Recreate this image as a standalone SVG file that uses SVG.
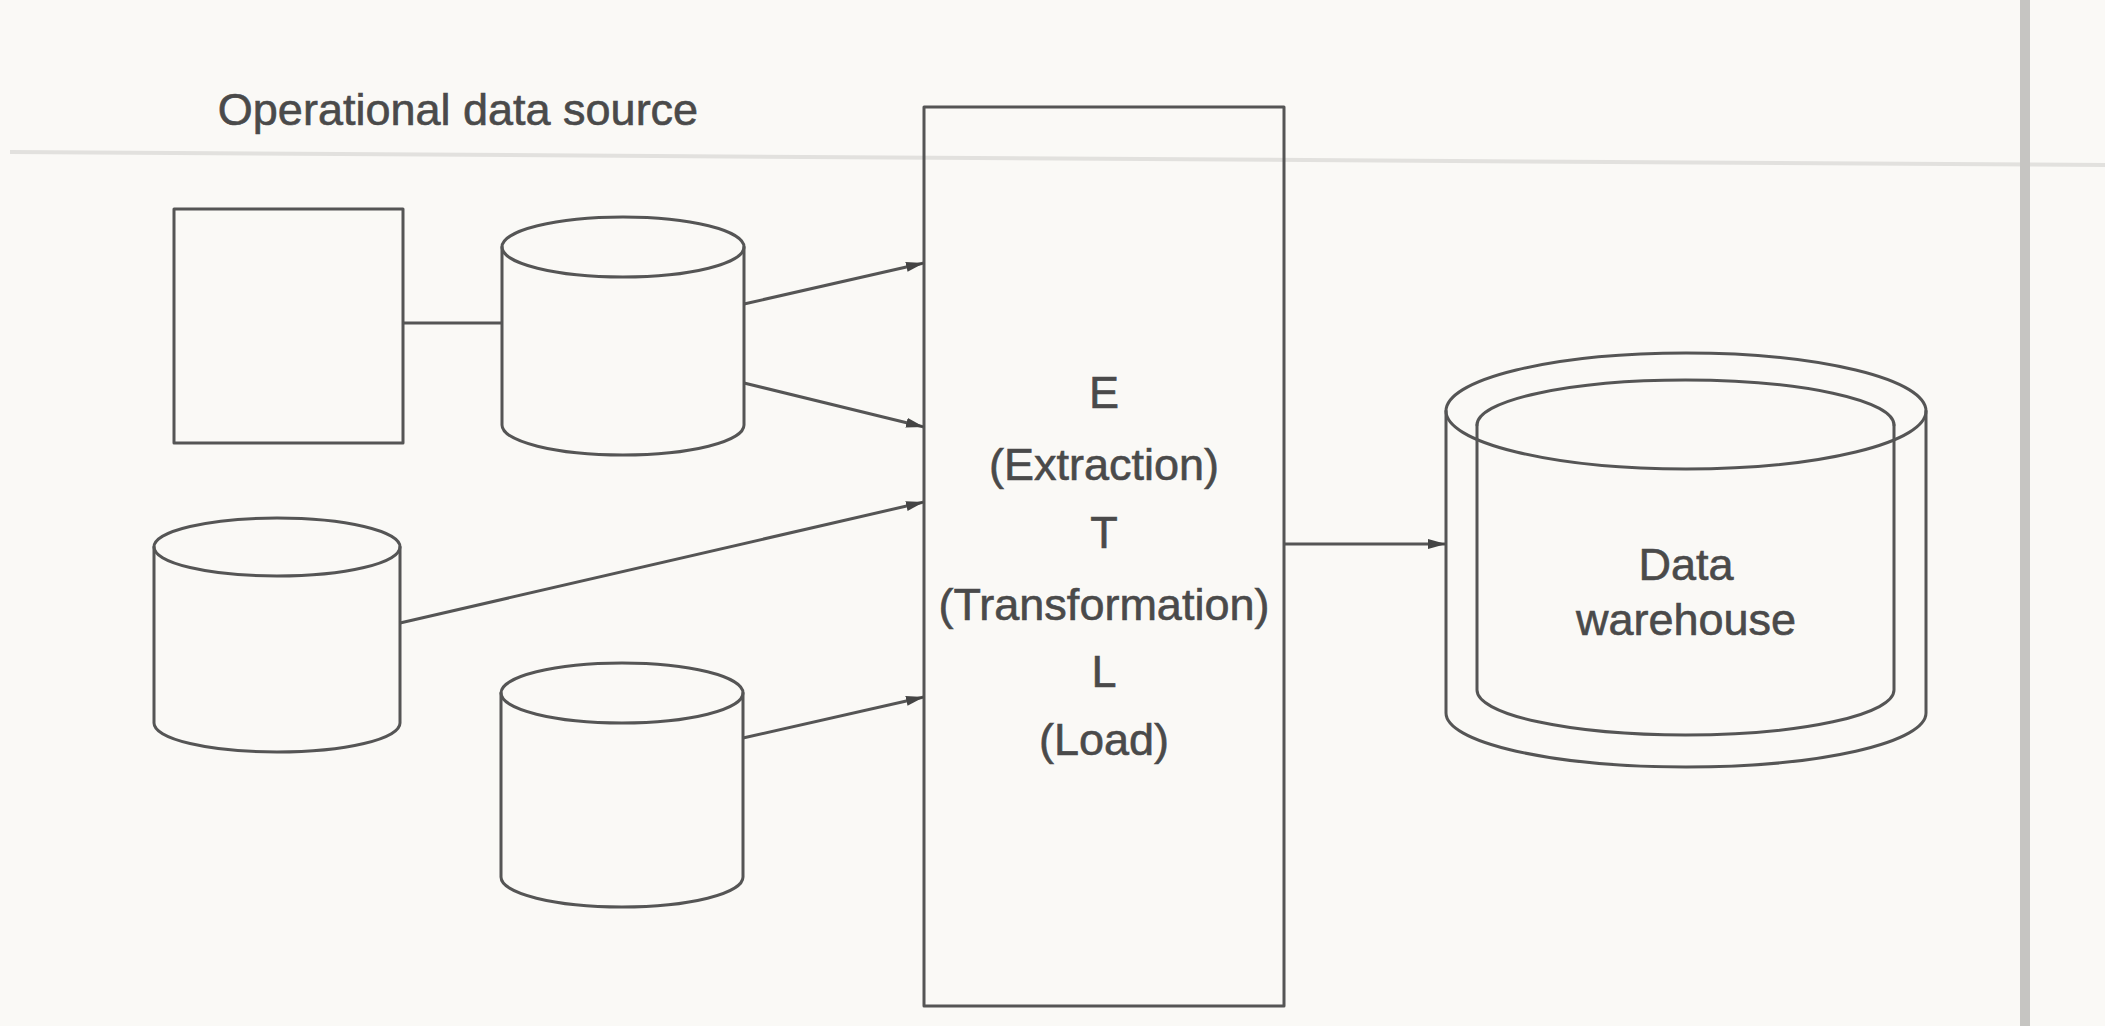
<svg xmlns="http://www.w3.org/2000/svg" width="2105" height="1026" viewBox="0 0 2105 1026">
  <style>
    .ln { fill: none; stroke: #555555; stroke-width: 3; stroke-linecap: round; stroke-linejoin: round; }
    .conn { fill: none; stroke: #555555; stroke-width: 3; }
    .lbl { font-family: "Liberation Sans", Arial, Helvetica, sans-serif; font-size: 45px; fill: #4a4a4a; stroke: #4a4a4a; stroke-width: 0.6; text-anchor: middle; }
    .page { fill: none; stroke-linecap: butt; }
  </style>
  <defs>
    <marker id="arrow" viewBox="0 0 18 10" refX="18" refY="5" markerWidth="18" markerHeight="10" markerUnits="userSpaceOnUse" orient="auto">
      <path d="M0,0 L18,5 L0,10 Z" fill="#444444"/>
    </marker>
  </defs>

  <!-- page background, rule line and gutter -->
  <rect x="0" y="0" width="2105" height="1026" fill="#faf9f6"/>
  <line class="page" x1="10" y1="152" x2="2105" y2="165" stroke="#e2e1de" stroke-width="4"/>
  <line class="page" x1="2025" y1="0" x2="2025" y2="1026" stroke="#c6c5c2" stroke-width="10"/>

  <!-- title -->
  <text id="title" class="lbl" x="458" y="125">Operational data source</text>

  <!-- source application -->
  <g id="source-app">
    <rect class="ln" x="174" y="209" width="229" height="234"/>
  </g>

  <!-- operational databases -->
  <g id="source-db-1">
    <ellipse class="ln" cx="623" cy="247" rx="121" ry="30"/>
    <path class="ln" d="M502,247 V425 A121,30 0 0 0 744,425 V247"/>
  </g>
  <g id="source-db-2">
    <ellipse class="ln" cx="277" cy="547" rx="123" ry="29"/>
    <path class="ln" d="M154,547 V723 A123,29 0 0 0 400,723 V547"/>
  </g>
  <g id="source-db-3">
    <ellipse class="ln" cx="622" cy="693" rx="121" ry="30"/>
    <path class="ln" d="M501,693 V877 A121,30 0 0 0 743,877 V693"/>
  </g>

  <!-- ETL process -->
  <g id="etl">
    <rect class="ln" x="924" y="107" width="360" height="899"/>
    <text class="lbl" x="1104" y="408">E</text>
    <text class="lbl" x="1104" y="480">(Extraction)</text>
    <text class="lbl" x="1104" y="548">T</text>
    <text class="lbl" x="1104" y="620">(Transformation)</text>
    <text class="lbl" x="1104" y="687">L</text>
    <text class="lbl" x="1104" y="755">(Load)</text>
  </g>

  <!-- data warehouse: double-walled cylinder -->
  <g id="data-warehouse">
    <ellipse class="ln" cx="1686" cy="411" rx="240" ry="58"/>
    <path class="ln" d="M1446,411 V713 A240,54 0 0 0 1926,713 V411"/>
    <path class="ln" d="M1477,425 A208.5,45 0 0 1 1894,425"/>
    <path class="ln" d="M1477,425 V690 A208.5,45 0 0 0 1894,690 V425"/>
    <text class="lbl" x="1686" y="580">Data</text>
    <text class="lbl" x="1686" y="635">warehouse</text>
  </g>

  <!-- connectors -->
  <g id="connectors">
    <line class="conn" x1="403" y1="323" x2="502" y2="323"/>
    <line class="conn" x1="744" y1="304" x2="924" y2="263" marker-end="url(#arrow)"/>
    <line class="conn" x1="744" y1="383" x2="924" y2="427" marker-end="url(#arrow)"/>
    <line class="conn" x1="400" y1="623" x2="924" y2="502" marker-end="url(#arrow)"/>
    <line class="conn" x1="743" y1="738" x2="924" y2="697" marker-end="url(#arrow)"/>
    <line class="conn" x1="1284" y1="544" x2="1446" y2="544" marker-end="url(#arrow)"/>
  </g>
</svg>
